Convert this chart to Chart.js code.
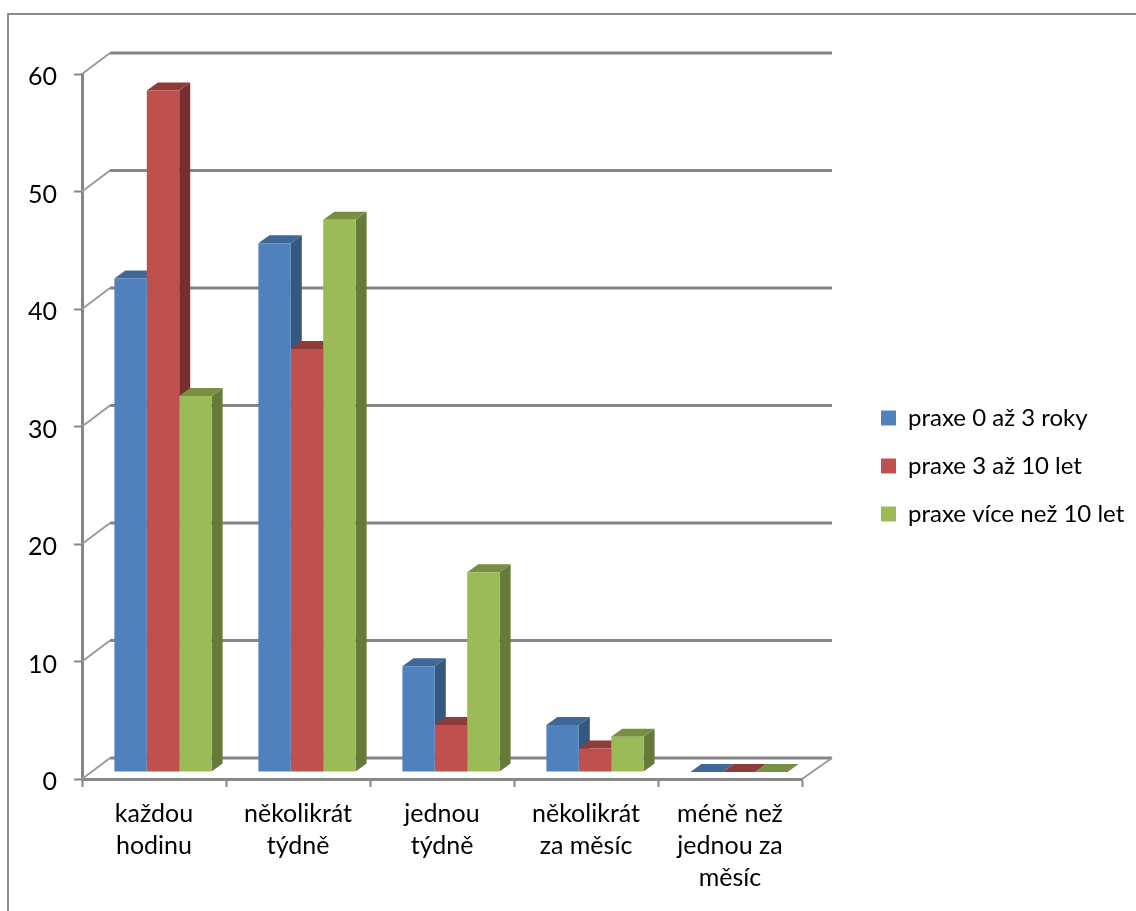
<!DOCTYPE html>
<html>
<head>
<meta charset="utf-8">
<style>
html, body { margin: 0; padding: 0; background: #fff; overflow: hidden; }
#wrap { width: 1136px; height: 911px; }
</style>
<script src="https://cdn.jsdelivr.net/npm/chart.js@4"></script>
</head>
<body>
<div id="wrap"><canvas id="chart" width="1136" height="911"></canvas></div>
<script>
// Chart data
const categories = [
    ['každou', 'hodinu'],
    ['několikrát', 'týdně'],
    ['jednou', 'týdně'],
    ['několikrát', 'za měsíc'],
    ['méně než', 'jednou za', 'měsíc']
];
const seriesNames = ['praxe 0 až 3 roky', 'praxe 3 až 10 let', 'praxe více než 10 let'];
const praxe0to3 = [42, 45, 9, 4, 0];
const praxe3to10 = [58, 36, 4, 2, 0];
const praxeOver10 = [32, 47, 17, 3, 0];
const yTicks = [0, 10, 20, 30, 40, 50, 60];

const frontColors = ['#4f81bd', '#c0504d', '#9bbb59'];
const sideColors = ['#35587f', '#772f2d', '#667a3a'];
const topColors = ['#3f6797', '#8e3b39', '#788f43'];
const gridColor = '#868686';
const fontName = 'Lato, "Open Sans", sans-serif';

// 3D look: how far the back wall and the bars sit behind the front plane
const wallDx = 28, wallDy = -21;
const barDx = 9, barDy = -7;
const depthDx = 11, depthDy = -8;

const fake3d = {
    id: 'fake3d',
    afterLayout(chart) {
        // move the legend to the right of the plot
        const l = chart.legend;
        l.left = 857;
        l.right = 1136;
        l.top = 382;
        l.bottom = 900;
    },
    beforeDraw(chart) {
        // outer frame, its right and bottom sides are cut off in the original
        const ctx = chart.ctx;
        ctx.save();
        ctx.strokeStyle = '#8c8c8c';
        ctx.lineWidth = 2;
        ctx.strokeRect(8, 14, 1400, 1200);
        ctx.restore();
    },
    beforeDatasetsDraw(chart) {
        const ctx = chart.ctx;
        const x = chart.scales.x, y = chart.scales.y;
        ctx.save();
        ctx.strokeStyle = gridColor;
        yTicks.forEach(v => {
            const py = y.getPixelForValue(v);
            // back wall line
            ctx.lineWidth = 3;
            ctx.beginPath();
            ctx.moveTo(x.left + wallDx, py + wallDy);
            ctx.lineTo(x.right + wallDx + 2, py + wallDy);
            ctx.stroke();
            // side wall line
            ctx.lineWidth = 2;
            ctx.strokeStyle = '#9a9a9a';
            ctx.beginPath();
            ctx.moveTo(x.left, py);
            ctx.lineTo(x.left + wallDx, py + wallDy);
            ctx.stroke();
            ctx.strokeStyle = gridColor;
        });
        // right edge of the floor
        const py0 = y.getPixelForValue(0);
        ctx.lineWidth = 2;
        ctx.strokeStyle = '#9a9a9a';
        ctx.beginPath();
        ctx.moveTo(x.right, py0);
        ctx.lineTo(x.right + wallDx + 2, py0 + wallDy);
        ctx.stroke();
        ctx.restore();

        // bars sit a bit behind the front plane, the saved state is
        // restored in afterDatasetsDraw so the front faces get the same shift
        ctx.save();
        ctx.translate(barDx, barDy);
        // top and side faces first, series by series from left to right
        chart.data.datasets.forEach((ds, i) => {
            chart.getDatasetMeta(i).data.forEach(bar => {
                const left = bar.x - bar.width / 2, right = bar.x + bar.width / 2;
                // side face
                ctx.fillStyle = sideColors[i];
                ctx.beginPath();
                ctx.moveTo(right, bar.y);
                ctx.lineTo(right + depthDx, bar.y + depthDy);
                ctx.lineTo(right + depthDx, bar.base + depthDy);
                ctx.lineTo(right, bar.base);
                ctx.closePath();
                ctx.fill();
                // top face
                ctx.fillStyle = topColors[i];
                ctx.beginPath();
                ctx.moveTo(left, bar.y);
                ctx.lineTo(left + depthDx, bar.y + depthDy);
                ctx.lineTo(right + depthDx, bar.y + depthDy);
                ctx.lineTo(right, bar.y);
                ctx.closePath();
                ctx.fill();
            });
        });
    },
    afterDatasetsDraw(chart) {
        chart.ctx.restore();
    }
};

new Chart(document.getElementById('chart'), {
    type: 'bar',
    data: {
        labels: categories,
        datasets: [praxe0to3, praxe3to10, praxeOver10].map((values, i) => ({
            label: seriesNames[i],
            data: values,
            backgroundColor: frontColors[i],
            borderWidth: 0,
            categoryPercentage: 0.675,
            barPercentage: 1,
            clip: false
        }))
    },
    options: {
        responsive: false,
        animation: false,
        events: [],
        layout: { padding: { left: 0, top: 74, right: 334, bottom: 0 } },
        plugins: {
            title: { display: false },
            tooltip: { enabled: false },
            legend: {
                position: 'chartArea',
                align: 'start',
                labels: {
                    boxWidth: 15,
                    boxHeight: 15,
                    padding: 24,
                    color: '#000',
                    font: { family: fontName, size: 24 }
                }
            }
        },
        scales: {
            x: {
                afterFit(scale) { scale.height = 911 - 779; },
                border: { color: gridColor, width: 3 },
                grid: { drawOnChartArea: false, color: gridColor, tickLength: 8, tickWidth: 2 },
                ticks: {
                    autoSkip: false,
                    maxRotation: 0,
                    color: '#000',
                    padding: 11,
                    font: { family: fontName, size: 25, lineHeight: 1.28 }
                }
            },
            y: {
                min: 0,
                max: 60,
                afterFit(scale) { scale.width = 82; },
                border: { color: gridColor, width: 3 },
                grid: { drawOnChartArea: false, color: gridColor, tickLength: 8, tickWidth: 2 },
                afterBuildTicks(scale) { scale.ticks = yTicks.map(v => ({ value: v })); },
                ticks: {
                    color: '#000',
                    padding: 17,
                    labelOffset: 3,
                    font: { family: fontName, size: 25 }
                }
            }
        }
    },
    plugins: [fake3d]
});
</script>
</body>
</html>
